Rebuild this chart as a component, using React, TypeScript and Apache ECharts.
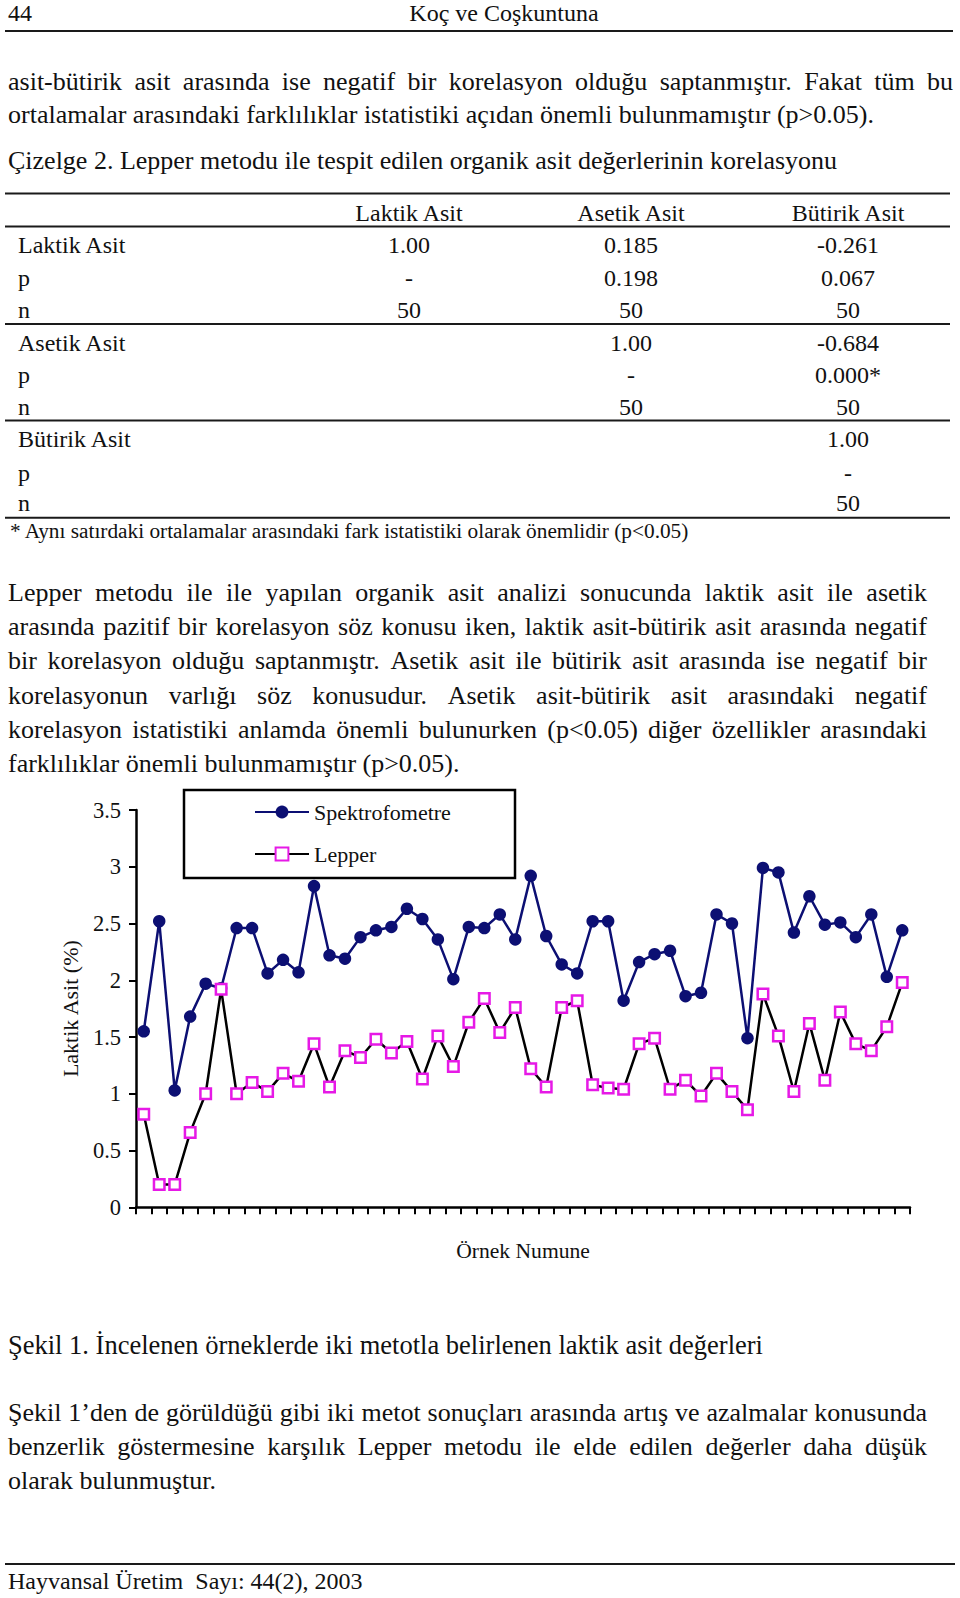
import React, { useEffect, useRef } from "react";
import * as echarts from "echarts";

// ---------- data ----------
const samples = Array.from({ length: 50 }, (_, i) => String(i + 1));
const spektrofometre = [
  1.55, 2.52, 1.03, 1.68, 1.97, 1.93, 2.46, 2.46, 2.06, 2.18,
  2.07, 2.83, 2.22, 2.19, 2.38, 2.44, 2.47, 2.63, 2.54, 2.36,
  2.01, 2.47, 2.46, 2.58, 2.36, 2.92, 2.39, 2.14, 2.06, 2.52,
  2.52, 1.82, 2.16, 2.23, 2.26, 1.86, 1.89, 2.58, 2.5, 1.49,
  2.99, 2.95, 2.42, 2.74, 2.49, 2.51, 2.38, 2.58, 2.03, 2.44,
];
const lepper = [
  0.82, 0.2, 0.2, 0.66, 1.0, 1.92, 1.0, 1.1, 1.02, 1.18,
  1.11, 1.44, 1.06, 1.38, 1.32, 1.48, 1.36, 1.46, 1.13, 1.51,
  1.24, 1.63, 1.84, 1.54, 1.76, 1.22, 1.06, 1.76, 1.82, 1.08,
  1.05, 1.04, 1.44, 1.49, 1.04, 1.12, 0.98, 1.18, 1.02, 0.86,
  1.88, 1.51, 1.02, 1.62, 1.12, 1.72, 1.44, 1.38, 1.59, 1.98,
];
const seriesNames = ["Spektrofometre", "Lepper"];
const yTicks = { min: 0, max: 3.5, interval: 0.5 };
const xAxisTitle = "Örnek Numune";
const yAxisTitle = "Laktik Asit (%)";

const headerLeft = "44";
const headerCenter = "Koç ve Coşkuntuna";
const para1 = [
  "asit-bütirik asit arasında ise negatif bir korelasyon olduğu saptanmıştır. Fakat tüm bu",
  "ortalamalar arasındaki farklılıklar istatistiki açıdan önemli bulunmamıştır (p>0.05).",
];
const tableTitle = "Çizelge 2. Lepper metodu ile tespit edilen organik asit değerlerinin korelasyonu";
const tableHeaders = ["Laktik Asit", "Asetik Asit", "Bütirik Asit"];
const tableRows = [
  ["Laktik Asit", "1.00", "0.185", "-0.261"],
  ["p", "-", "0.198", "0.067"],
  ["n", "50", "50", "50"],
  ["Asetik Asit", "", "1.00", "-0.684"],
  ["p", "", "-", "0.000*"],
  ["n", "", "50", "50"],
  ["Bütirik Asit", "", "", "1.00"],
  ["p", "", "", "-"],
  ["n", "", "", "50"],
];
const tableNote = "* Aynı satırdaki ortalamalar arasındaki fark istatistiki olarak önemlidir (p<0.05)";
const para2 = [
  "Lepper metodu ile ile yapılan organik asit analizi sonucunda laktik asit ile asetik",
  "arasında pazitif bir korelasyon söz konusu iken, laktik asit-bütirik asit arasında negatif",
  "bir korelasyon olduğu saptanmıştr. Asetik asit ile bütirik asit arasında ise negatif bir",
  "korelasyonun varlığı söz konusudur. Asetik asit-bütirik asit arasındaki negatif",
  "korelasyon istatistiki anlamda önemli bulunurken (p<0.05) diğer özellikler arasındaki",
  "farklılıklar önemli bulunmamıştır (p>0.05).",
];
const figCaption = "Şekil 1. İncelenen örneklerde iki metotla belirlenen laktik asit değerleri";
const para3 = [
  "Şekil 1’den de görüldüğü gibi iki metot sonuçları arasında artış ve azalmalar konusunda",
  "benzerlik göstermesine karşılık Lepper metodu ile elde edilen değerler daha düşük",
  "olarak bulunmuştur.",
];
const footer = "Hayvansal Üretim  Sayı: 44(2), 2003";

// ---------- layout ----------
const FONT = "Liberation Serif";
const BODY = 26;
const TABLE = 24;
const INK = "#111";

let measureCtx: CanvasRenderingContext2D | null = null;
function measure(text: string, size: number) {
  if (!measureCtx) measureCtx = document.createElement("canvas").getContext("2d");
  measureCtx!.font = `${size}px "${FONT}"`;
  return measureCtx!.measureText(text).width;
}

function txt(text: string, x: number, y: number, size: number, align = "left", extra: any = {}) {
  return {
    type: "text",
    x,
    y,
    silent: true,
    ...extra,
    style: {
      text,
      fontSize: size,
      fontFamily: FONT,
      fill: INK,
      align,
      verticalAlign: "middle",
      textAlign: align,
      textVerticalAlign: "middle",
    },
  };
}

function justified(text: string, x0: number, x1: number, y: number, size: number) {
  const words = text.split(" ");
  const widths = words.map((w) => measure(w, size));
  const total = widths.reduce((a, b) => a + b, 0);
  const gap = words.length > 1 ? (x1 - x0 - total) / (words.length - 1) : 0;
  let x = x0;
  return words.map((w, i) => {
    const el = txt(w, x, y, size);
    x += widths[i] + gap;
    return el;
  });
}

function hline(x1: number, x2: number, y: number, w = 2) {
  return {
    type: "line",
    silent: true,
    shape: { x1, y1: y, x2, y2: y },
    style: { stroke: "#1a1a1a", lineWidth: w },
  };
}

export default function App() {
  const ref = useRef<HTMLDivElement>(null);
  useEffect(() => {
    const chart = echarts.init(ref.current!, null, { renderer: "svg" });
    const els: any[] = [];
    // header
    els.push(txt(headerLeft, 8, 13, 24));
    els.push(txt(headerCenter, 504, 13, 24, "center"));
    els.push(hline(5, 953, 31, 2));
    // paragraph 1
    els.push(...justified(para1[0], 8, 953, 81.5, BODY));
    els.push(txt(para1[1], 8, 114.5, BODY));
    els.push(txt(tableTitle, 8, 160, BODY));
    // table
    const colX = [409, 631, 848];
    els.push(hline(5, 950, 193.5, 2));
    tableHeaders.forEach((h, i) => els.push(txt(h, colX[i], 213, TABLE, "center")));
    els.push(hline(5, 950, 226.5, 2));
    const rowY = [245, 277.7, 309.5, 343, 375, 406.7, 439.3, 472.5, 503];
    tableRows.forEach((r, ri) => {
      els.push(txt(r[0], 18, rowY[ri], TABLE));
      for (let c = 1; c < 4; c++) if (r[c]) els.push(txt(r[c], colX[c - 1], rowY[ri], TABLE, "center"));
    });
    els.push(hline(5, 950, 324, 2));
    els.push(hline(5, 950, 420.5, 2));
    els.push(hline(5, 950, 517.7, 2));
    els.push(txt(tableNote, 10, 531, 21.3));
    // paragraph 2
    const p2y = [592, 626.5, 660, 695, 729.5, 763.5];
    para2.forEach((l, i) => {
      if (i < para2.length - 1) els.push(...justified(l, 8, 927, p2y[i], BODY));
      else els.push(txt(l, 8, p2y[i], BODY));
    });
    // legend box
    els.push({
      type: "rect",
      silent: true,
      shape: { x: 184, y: 790, width: 331, height: 88 },
      style: { fill: "none", stroke: "#000", lineWidth: 2.5 },
      z: 0,
    });
    // caption and paragraph 3
    els.push(txt(figCaption, 8, 1345, 26.5));
    const p3y = [1412, 1446.5, 1480.5];
    para3.forEach((l, i) => {
      if (i < para3.length - 1) els.push(...justified(l, 8, 927, p3y[i], BODY));
      else els.push(txt(l, 8, p3y[i], BODY));
    });
    els.push(hline(5, 955, 1564, 2));
    els.push(txt(footer, 8, 1581, 24));

    const option: any = {
      animation: false,
      backgroundColor: "#fff",
      textStyle: { fontFamily: FONT },
      grid: {
        left: 136,
        right: 50,
        top: 810,
        bottom: 390.7,
        containLabel: false,
        outerBoundsMode: "none",
      },
      legend: {
        orient: "vertical",
        left: 254,
        top: 801,
        padding: 0,
        itemWidth: 54,
        itemHeight: 16,
        itemGap: 20,
        textStyle: { fontSize: 22, fontFamily: FONT, color: INK, lineHeight: 22 },
        data: seriesNames,
      },
      xAxis: {
        type: "category",
        data: samples,
        boundaryGap: true,
        name: xAxisTitle,
        nameLocation: "middle",
        nameGap: 33,
        nameTextStyle: { fontSize: 21.6, fontFamily: FONT, color: INK },
        axisLine: { lineStyle: { color: "#000", width: 2.5 } },
        axisTick: { show: true, interval: 0, length: 7, lineStyle: { color: "#000", width: 2 } },
        axisLabel: { show: false, interval: 0 },
        splitLine: { show: false },
      },
      yAxis: {
        type: "value",
        min: yTicks.min,
        max: yTicks.max,
        interval: yTicks.interval,
        name: yAxisTitle,
        nameLocation: "middle",
        nameGap: 53,
        nameTextStyle: { fontSize: 22, fontFamily: FONT, color: INK },
        axisLine: { show: true, lineStyle: { color: "#000", width: 2.5 } },
        axisTick: { show: true, length: 7, lineStyle: { color: "#000", width: 2 } },
        axisLabel: { fontSize: 22.5, fontFamily: FONT, color: INK, margin: 15 },
        splitLine: { show: false },
      },
      series: [
        {
          name: seriesNames[0],
          type: "line",
          data: spektrofometre,
          symbol: "circle",
          symbolSize: 12.5,
          showSymbol: true,
          showAllSymbol: true,
          z: 2,
          lineStyle: { color: "#0c0f73", width: 2.5 },
          itemStyle: { color: "#0c0f73" },
        },
        {
          name: seriesNames[1],
          type: "line",
          data: lepper,
          symbol: "rect",
          symbolSize: 10.5,
          showSymbol: true,
          showAllSymbol: true,
          z: 3,
          lineStyle: { color: "#000", width: 2.5 },
          itemStyle: { color: "#fff", borderColor: "#e619e6", borderWidth: 2.5 },
        },
      ],
      graphic: { elements: els },
    };
    chart.setOption(option);
    return () => chart.dispose();
  }, []);
  return (
    <div
      ref={ref}
      style={{ position: "absolute", left: 0, top: 0, width: 960, height: 1598, background: "#fff" }}
    />
  );
}
